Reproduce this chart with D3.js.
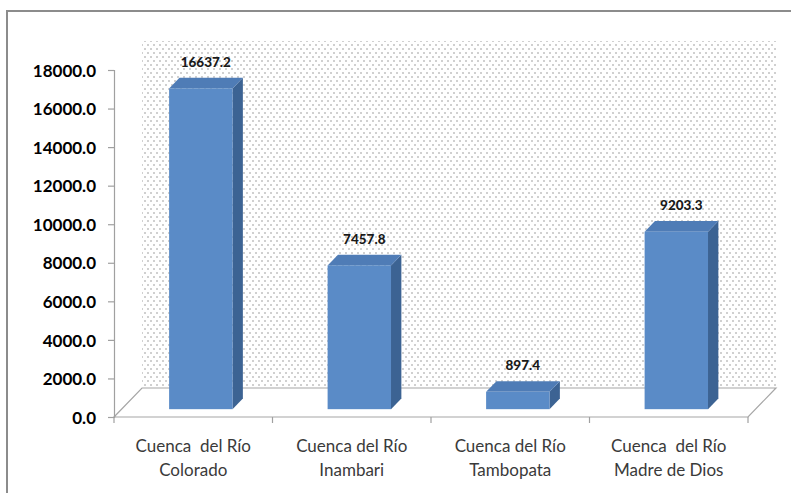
<!DOCTYPE html>
<html>
<head>
<meta charset="utf-8">
<script src="https://cdn.jsdelivr.net/npm/d3@7/dist/d3.min.js"></script>
<style>
  html, body { margin: 0; padding: 0; background: #fff; }
  svg { display: block; }
</style>
</head>
<body>
<script>
// Basin names (two lines each) and their values
const categoryLine1 = ["Cuenca\u00a0 del Río", "Cuenca del Río", "Cuenca del Río", "Cuenca\u00a0 del Río"];
const categoryLine2 = ["Colorado", "Inambari", "Tambopata", "Madre de Dios"];
const values = [16637.2, 7457.8, 897.4, 9203.3];
const yTicks = [0, 2000, 4000, 6000, 8000, 10000, 12000, 14000, 16000, 18000];

const W = 791, H = 493;
const svg = d3.select("body").append("svg").attr("width", W).attr("height", H);

// oblique 3D offsets for the full depth of the floor
const DX = 28, DY = -29;
const T0 = 0.27, T1 = 0.64;   // bar depth range (fraction of floor depth)

const x = d3.scaleBand().domain(d3.range(values.length)).range([114, 748])
  .paddingInner(0.6).paddingOuter(0.3);
const xAxisBand = d3.scaleBand().domain(d3.range(values.length)).range([114, 748]);
const y = d3.scaleLinear().domain([0, 18000]).range([417, 70]);

// dotted back-wall fill
const defs = svg.append("defs");
const pat = defs.append("pattern").attr("id", "dots").attr("patternUnits", "userSpaceOnUse")
  .attr("width", 6).attr("height", 8);
pat.append("rect").attr("x", 0).attr("y", 0).attr("width", 2).attr("height", 2).attr("fill", "#d0d0d0");
pat.append("rect").attr("x", 3).attr("y", 4).attr("width", 2).attr("height", 2).attr("fill", "#d0d0d0");

// chart border
svg.append("rect").attr("x", 7).attr("y", 11).attr("width", 820).attr("height", 520)
  .attr("fill", "none").attr("stroke", "#8c8c8c").attr("stroke-width", 2);

const x0 = xAxisBand.range()[0], x1 = xAxisBand.range()[1];
const yFront = y(0), yMaxFront = y(18000);

// back wall
svg.append("rect")
  .attr("x", x0 + DX).attr("y", yMaxFront + DY)
  .attr("width", x1 - x0).attr("height", yFront - yMaxFront)
  .attr("fill", "url(#dots)");

// floor
svg.append("path")
  .attr("d", `M${x0},${yFront} L${x0 + DX},${yFront + DY} L${x1 + DX},${yFront + DY} L${x1},${yFront} Z`)
  .attr("fill", "#fff").attr("stroke", "#a6a6a6").attr("stroke-width", 1.2);

// y axis
const yAxis = d3.axisLeft(y).tickValues(yTicks).tickSize(6).tickPadding(12)
  .tickFormat(d => d.toFixed(1));
const gy = svg.append("g").attr("transform", `translate(${x0},0)`).call(yAxis);
gy.select(".domain").attr("stroke", "#a0a0a0").attr("stroke-width", 1.2);
gy.selectAll(".tick line").attr("stroke", "#a0a0a0").attr("stroke-width", 1.2);
gy.selectAll(".tick text")
  .attr("font-family", "Lato, 'Open Sans', sans-serif").attr("font-weight", "bold")
  .attr("font-size", 17).attr("fill", "#000").attr("dy", "0.36em");

// x axis ticks along the front edge
const xTickPos = d3.range(values.length + 1).map(i => x0 + i * xAxisBand.step());
svg.append("g").selectAll("line").data(xTickPos).join("line")
  .attr("x1", d => d).attr("x2", d => d)
  .attr("y1", yFront).attr("y2", yFront + 6)
  .attr("stroke", "#a0a0a0").attr("stroke-width", 1.2);

// bars
const frontColor = "#5a8bc7", sideColor = "#3c6393", topColor = "#4f7cb6";
const bars = svg.append("g").selectAll("g").data(values).join("g");
const dxb = (T1 - T0) * DX, dyb = (T1 - T0) * DY;
bars.each(function (v, i) {
  const g = d3.select(this);
  const fx0 = x(i) + T0 * DX, fx1 = fx0 + x.bandwidth();
  const fyTop = y(v) + T0 * DY, fyBot = y(0) + T0 * DY;
  // side face
  g.append("path")
    .attr("d", `M${fx1},${fyTop} L${fx1 + dxb},${fyTop + dyb} L${fx1 + dxb},${fyBot + dyb} L${fx1},${fyBot} Z`)
    .attr("fill", sideColor);
  // top face
  g.append("path")
    .attr("d", `M${fx0},${fyTop} L${fx0 + dxb},${fyTop + dyb} L${fx1 + dxb},${fyTop + dyb} L${fx1},${fyTop} Z`)
    .attr("fill", topColor);
  // front face
  g.append("rect").attr("x", fx0).attr("y", fyTop)
    .attr("width", fx1 - fx0).attr("height", fyBot - fyTop).attr("fill", frontColor);
  // value label
  g.append("text")
    .attr("x", (fx0 + fx1) / 2 + 5).attr("y", fyTop + dyb - 11)
    .attr("text-anchor", "middle")
    .attr("font-family", "Lato, 'Open Sans', sans-serif").attr("font-weight", "900")
    .attr("font-size", 13.5).attr("fill", "#1a1a1a")
    .text(v.toFixed(1));
});

// category labels
const labels = svg.append("g").selectAll("text").data(values).join("text")
  .attr("text-anchor", "middle")
  .attr("font-family", "Lato, 'Open Sans', sans-serif")
  .attr("font-size", 17).attr("fill", "#3a3a3a");
labels.append("tspan").attr("x", (d, i) => xAxisBand(i) + xAxisBand.bandwidth() / 2).attr("y", 452)
  .text((d, i) => categoryLine1[i]);
labels.append("tspan").attr("x", (d, i) => xAxisBand(i) + xAxisBand.bandwidth() / 2).attr("y", 476)
  .text((d, i) => categoryLine2[i]);
</script>
</body>
</html>
